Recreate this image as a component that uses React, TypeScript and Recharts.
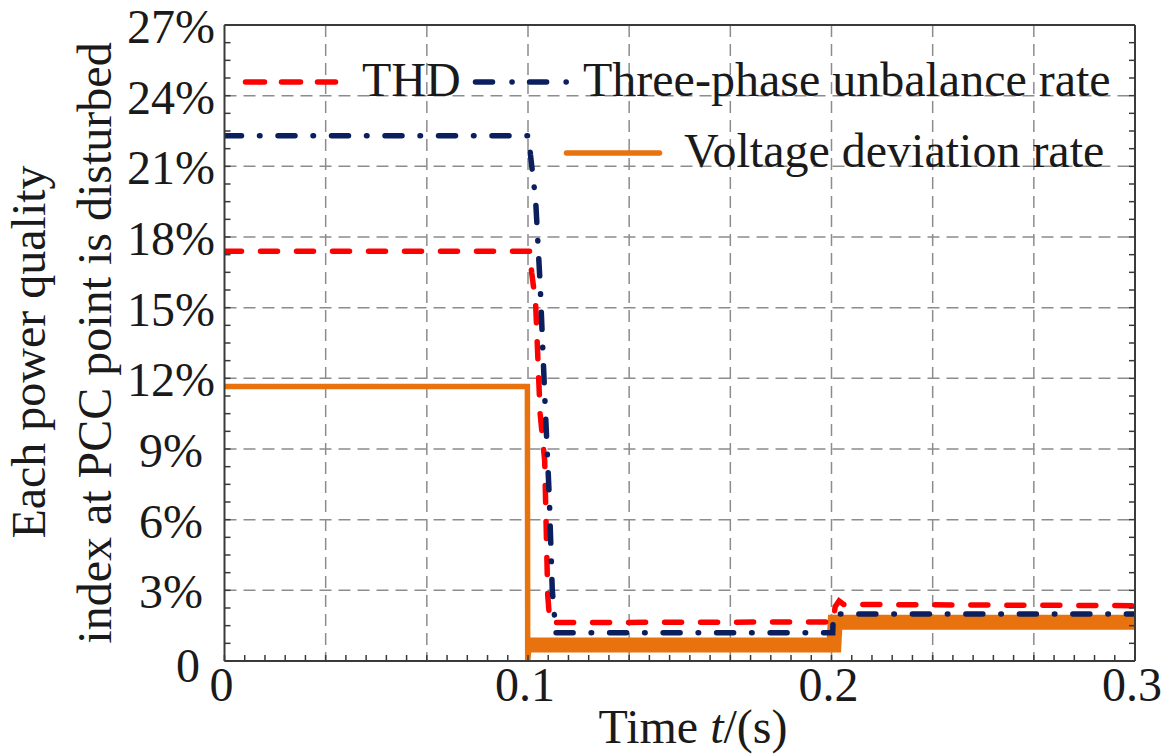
import React from "react";
import { LineChart, Line, XAxis, YAxis, CartesianGrid, Legend } from "recharts";

// ---- data ----
const thdTime = [0, 0.1005, 0.1012, 0.1025, 0.104, 0.1055, 0.1065, 0.1072, 0.2006, 0.2012, 0.2025, 0.204, 0.3];
const thdValue = [17.4, 17.4, 16.5, 15.2, 10.5, 8.5, 2.8, 1.63, 1.66, 2.3, 2.55, 2.4, 2.35];

const unbalanceTime = [0, 0.1003, 0.1008, 0.1025, 0.104, 0.1056, 0.107, 0.108, 0.1092, 0.2004, 0.2006, 0.3];
const unbalanceValue = [22.3, 22.3, 21.5, 19.6, 16.0, 11.0, 7.0, 3.0, 1.2, 1.2, 2.0, 2.0];

const voltageFaultTime = [0, 0.0998, 0.0999, 0.1004];
const voltageFaultValue = [11.65, 11.65, 0, 0.68];
const voltageAfterTime = [0.1004, 0.2008, 0.2012, 0.3];
const voltageAfterValue = [0.68, 0.68, 1.65, 1.65];

const xGridValues = [1 / 30, 2 / 30, 0.1, 4 / 30, 5 / 30, 0.2, 7 / 30, 8 / 30];
const yGridValues = [3, 6, 9, 12, 15, 18, 21, 24];
const xMinorTicks = Array.from({ length: 46 }, (_, i) => i / 150);
const yMinorTicks = Array.from({ length: 37 }, (_, i) => i * 0.75);

const legendLabels = ["THD", "Three-phase unbalance rate", "Voltage deviation rate"];

const toPoints = (ts: number[], vs: number[]) => ts.map((t, i) => ({ t, v: vs[i] }));
const thdData = toPoints(thdTime, thdValue);
const unbalanceData = toPoints(unbalanceTime, unbalanceValue);
const voltageFaultData = toPoints(voltageFaultTime, voltageFaultValue);
const voltageAfterData = toPoints(voltageAfterTime, voltageAfterValue);

const FONT = '"Liberation Serif", "Times New Roman", serif';
const FRAME = "#3a3a3a";
const RED = "#ff0000";
const NAVY = "#0b1f5e";
const ORANGE = "#e8720e";

const BottomTick = (props: any) => {
  const { x, y } = props;
  const index = props.index ?? props.payload?.index ?? 0;
  const major = index % 15 === 0;
  const label = index === 0 ? "0" : (index / 150).toFixed(1);
  return (
    <g>
      <line x1={x} y1={y} x2={x} y2={y - 6} stroke={FRAME} strokeWidth={1.5} />
      {major && (
        <text x={x - 3} y={y + 40} textAnchor="middle" fontFamily={FONT} fontSize={48} fill="#1a1a1a">
          {label}
        </text>
      )}
    </g>
  );
};

const TopTick = (props: any) => {
  const { x, y } = props;
  return <line x1={x} y1={y} x2={x} y2={y + 6} stroke={FRAME} strokeWidth={1.5} />;
};

const LeftTick = (props: any) => {
  const { x, y } = props;
  const index = props.index ?? props.payload?.index ?? 0;
  const major = index % 4 === 0;
  return (
    <g>
      <line x1={x} y1={y} x2={x + 6} y2={y} stroke={FRAME} strokeWidth={1.5} />
      {major &&
        (index === 0 ? (
          <text x={200} y={y + 21} textAnchor="end" fontFamily={FONT} fontSize={48} fill="#1a1a1a">
            0
          </text>
        ) : (
          <text x={171} y={y + 18} textAnchor="middle" fontFamily={FONT} fontSize={48} fill="#1a1a1a">
            {`${(index / 4) * 3}%`}
          </text>
        ))}
    </g>
  );
};

const RightTick = (props: any) => {
  const { x, y } = props;
  return <line x1={x} y1={y} x2={x - 6} y2={y} stroke={FRAME} strokeWidth={1.5} />;
};

const LegendContent = () => (
  <div style={{ position: "relative", height: 0 }}>
    <svg width={1169} height={754} style={{ position: "absolute", left: 0, top: 0, overflow: "visible" }}>
      <line x1={245.5} y1={82} x2={335.5} y2={82} stroke={RED} strokeWidth={5.5} strokeDasharray="19 17" strokeLinecap="round" />
      <text x={362} y={96} fontFamily={FONT} fontSize={48} fill="#1a1a1a">{legendLabels[0]}</text>
      <line x1={475.5} y1={82} x2={567} y2={82} stroke={NAVY} strokeWidth={5.5} strokeDasharray="17 19.5 0.1 17.5" strokeLinecap="round" />
      <text x={583} y={96} fontFamily={FONT} fontSize={48} fill="#1a1a1a">{legendLabels[1]}</text>
      <line x1={566.5} y1={153} x2={659.5} y2={153} stroke={ORANGE} strokeWidth={5.5} strokeLinecap="round" />
      <text x={684} y={167} fontFamily={FONT} fontSize={48} fill="#1a1a1a">{legendLabels[2]}</text>
      <text x={693} y={743} textAnchor="middle" fontFamily={FONT} fontSize={48} fill="#1a1a1a">
        Time <tspan fontStyle="italic">t</tspan>/(s)
      </text>
      <text x={45} y={352} textAnchor="middle" transform="rotate(-90 45 352)" fontFamily={FONT} fontSize={48} fill="#1a1a1a">
        Each power quality
      </text>
      <text x={111} y={343} textAnchor="middle" transform="rotate(-90 111 343)" fontFamily={FONT} fontSize={48} fill="#1a1a1a">
        index at PCC point is disturbed
      </text>
    </svg>
  </div>
);

export default function App() {
  return (
    <div style={{ position: "absolute", left: 0, top: 0, background: "#fff" }}>
      <LineChart width={1169} height={754} margin={{ top: 24, right: 33, bottom: 92, left: 223.5 }}>
        <CartesianGrid
          xAxisId="x"
          yAxisId="y"
          stroke="#8c8c8c"
          strokeWidth={1.5}
          strokeDasharray="12 7"
          verticalValues={xGridValues}
          horizontalValues={yGridValues}
        />
        <XAxis
          xAxisId="x"
          dataKey="t"
          type="number"
          domain={[0, 0.3]}
          allowDataOverflow
          ticks={xMinorTicks}
          interval={0}
          height={1}
          tickSize={0}
          tickMargin={0}
          tickLine={false}
          tick={<BottomTick />}
          axisLine={{ stroke: FRAME, strokeWidth: 2 }}
        />
        <XAxis
          xAxisId="top"
          orientation="top"
          type="number"
          domain={[0, 0.3]}
          allowDataOverflow
          ticks={xMinorTicks}
          interval={0}
          height={1}
          tickSize={0}
          tickMargin={0}
          tickLine={false}
          tick={<TopTick />}
          axisLine={{ stroke: FRAME, strokeWidth: 2 }}
        />
        <YAxis
          yAxisId="y"
          type="number"
          domain={[0, 27]}
          allowDataOverflow
          ticks={yMinorTicks}
          interval={0}
          width={1}
          tickSize={0}
          tickMargin={0}
          tickLine={false}
          tick={<LeftTick />}
          axisLine={{ stroke: FRAME, strokeWidth: 2 }}
        />
        <YAxis
          yAxisId="right"
          orientation="right"
          type="number"
          domain={[0, 27]}
          allowDataOverflow
          ticks={yMinorTicks}
          interval={0}
          width={1}
          tickSize={0}
          tickMargin={0}
          tickLine={false}
          tick={<RightTick />}
          axisLine={{ stroke: FRAME, strokeWidth: 2 }}
        />
        <Legend
          content={<LegendContent />}
          wrapperStyle={{ position: "absolute", left: 0, top: 0, width: 1169, height: 0 }}
        />
        <Line
          xAxisId="x"
          yAxisId="y"
          data={voltageFaultData}
          dataKey="v"
          type="linear"
          stroke={ORANGE}
          strokeWidth={5.5}
          dot={false}
          isAnimationActive={false}
          legendType="none"
        />
        <Line
          xAxisId="x"
          yAxisId="y"
          data={voltageAfterData}
          dataKey="v"
          type="linear"
          stroke={ORANGE}
          strokeWidth={15}
          strokeLinecap="butt"
          dot={false}
          isAnimationActive={false}
          legendType="none"
        />
        <Line
          xAxisId="x"
          yAxisId="y"
          data={thdData}
          dataKey="v"
          type="linear"
          stroke={RED}
          strokeWidth={5.5}
          strokeDasharray="17 19"
          strokeLinecap="round"
          dot={false}
          isAnimationActive={false}
          legendType="none"
        />
        <Line
          xAxisId="x"
          yAxisId="y"
          data={unbalanceData}
          dataKey="v"
          type="linear"
          stroke={NAVY}
          strokeWidth={5.5}
          strokeDasharray="17 18 0.5 18"
          strokeLinecap="round"
          dot={false}
          isAnimationActive={false}
          legendType="none"
        />
      </LineChart>
    </div>
  );
}
